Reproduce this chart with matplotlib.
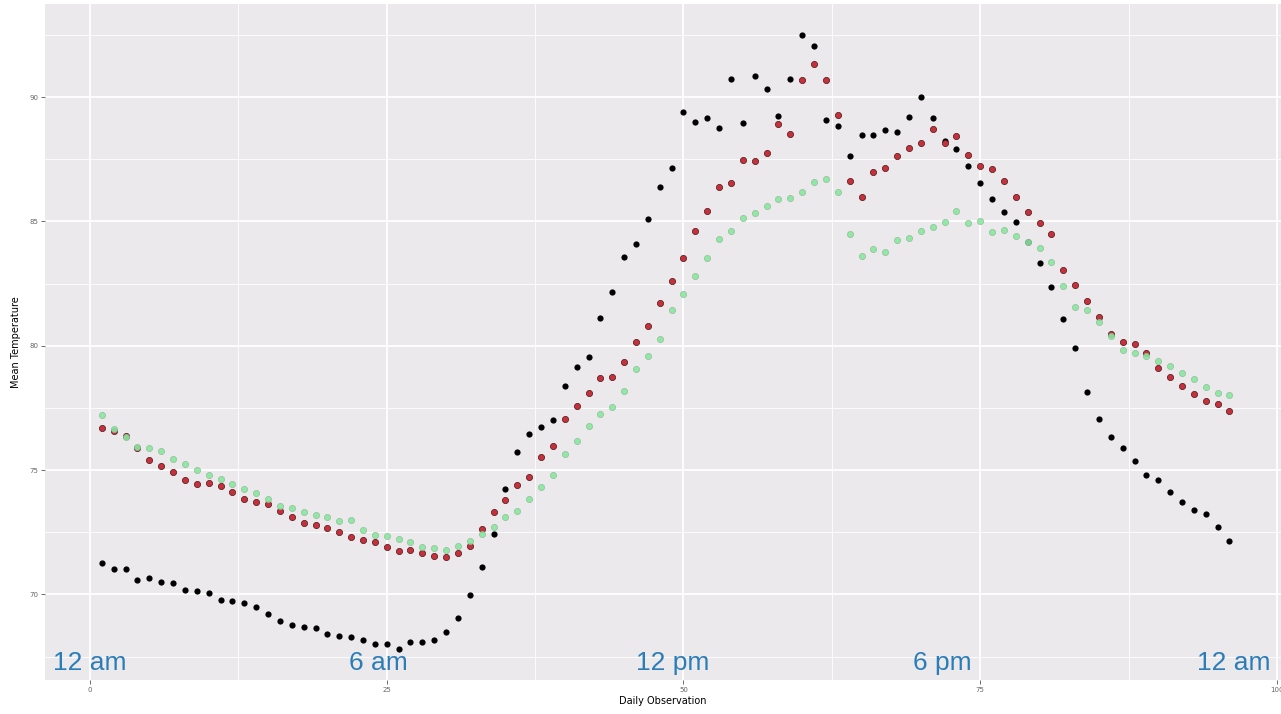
import matplotlib
matplotlib.use("Agg")
import matplotlib.pyplot as plt
from matplotlib.ticker import MultipleLocator, FixedLocator

obs = list(range(1, 97))

temp_black = [71.27, 71.04, 71.01, 70.58, 70.68, 70.51, 70.45, 70.17, 70.14, 70.05,
              69.79, 69.74, 69.65, 69.50, 69.20, 68.95, 68.79, 68.69, 68.67, 68.40,
              68.34, 68.30, 68.17, 68.02, 68.01, 67.81, 68.08, 68.08, 68.18, 68.50,
              69.07, 69.97, 71.12, 72.43, 74.24, 75.74, 76.44, 76.75, 77.01, 78.38,
              79.16, 79.56, 81.12, 82.17, 83.58, 84.08, 85.10, 86.37, 87.16, 89.38,
              89.00, 89.16, 88.77, 90.72, 88.94, 90.84, 90.33, 89.24, 90.74, 92.48,
              92.06, 89.08, 88.83, 87.63, 88.47, 88.47, 88.67, 88.59, 89.18, 89.99,
              89.17, 88.22, 87.90, 87.23, 86.53, 85.91, 85.39, 84.96, 84.18, 83.33,
              82.35, 81.06, 79.92, 78.14, 77.04, 76.34, 75.88, 75.37, 74.82, 74.60,
              74.12, 73.71, 73.38, 73.24, 72.70, 72.16]

temp_red = [76.69, 76.57, 76.37, 75.88, 75.41, 75.17, 74.91, 74.59, 74.45, 74.47,
            74.35, 74.13, 73.84, 73.71, 73.63, 73.34, 73.12, 72.86, 72.78, 72.66,
            72.52, 72.31, 72.19, 72.12, 71.90, 71.76, 71.78, 71.67, 71.55, 71.52,
            71.66, 71.95, 72.62, 73.33, 73.80, 74.39, 74.74, 75.53, 75.95, 77.07,
            77.58, 78.09, 78.69, 78.75, 79.34, 80.14, 80.80, 81.73, 82.60, 83.51,
            84.63, 85.42, 86.40, 86.55, 87.47, 87.44, 87.73, 88.90, 88.50, 90.68,
            91.31, 90.68, 89.28, 86.64, 85.97, 86.98, 87.13, 87.64, 87.95, 88.16,
            88.72, 88.15, 88.42, 87.67, 87.22, 87.09, 86.62, 85.99, 85.39, 84.95,
            84.49, 83.05, 82.44, 81.80, 81.17, 80.46, 80.14, 80.06, 79.70, 79.09,
            78.73, 78.39, 78.05, 77.79, 77.66, 77.39]

temp_green = [77.20, 76.65, 76.34, 75.94, 75.88, 75.77, 75.45, 75.23, 75.00, 74.80,
              74.64, 74.43, 74.24, 74.07, 73.84, 73.56, 73.47, 73.32, 73.20, 73.12,
              72.97, 73.00, 72.61, 72.39, 72.33, 72.21, 72.11, 71.90, 71.86, 71.77,
              71.93, 72.14, 72.42, 72.73, 73.10, 73.37, 73.84, 74.32, 74.79, 75.65,
              76.18, 76.78, 77.25, 77.55, 78.18, 79.08, 79.60, 80.27, 81.45, 82.09,
              82.80, 83.53, 84.29, 84.62, 85.12, 85.33, 85.62, 85.90, 85.94, 86.17,
              86.60, 86.69, 86.17, 84.48, 83.62, 83.88, 83.78, 84.25, 84.35, 84.60,
              84.79, 84.97, 85.42, 84.94, 85.02, 84.59, 84.65, 84.41, 84.18, 83.92,
              83.36, 82.42, 81.57, 81.45, 80.95, 80.40, 79.83, 79.70, 79.60, 79.37,
              79.17, 78.89, 78.66, 78.34, 78.11, 78.02]

x_ticks = [0, 25, 50, 75, 100]
y_ticks = [70, 75, 80, 85, 90]

time_labels = ["12 am", "6 am", "12 pm", "6 pm", "12 am"]
time_label_x = [0.0, 24.3, 49.1, 71.8, 96.4]
time_label_y = 67.25

W, H = 1281, 714
fig = plt.figure(figsize=(W / 100, H / 100), dpi=100)
fig.patch.set_facecolor("white")
ax = fig.add_axes([45 / W, 1 - 680 / H, (1281 - 45) / W, (680 - 4) / H])
ax.set_facecolor("#EBE9EC")

ax.set_xlim(-3.79, 100.34)
ax.set_ylim(66.56, 93.74)

ax.xaxis.set_major_locator(FixedLocator(x_ticks))
ax.yaxis.set_major_locator(FixedLocator(y_ticks))
ax.xaxis.set_minor_locator(MultipleLocator(12.5))
ax.yaxis.set_minor_locator(MultipleLocator(2.5))
ax.grid(which="major", color="white", linewidth=1.3)
ax.grid(which="minor", color="white", linewidth=0.6)
ax.set_axisbelow(True)
for s in ax.spines.values():
    s.set_visible(False)

ax.tick_params(which="major", length=3, width=0.6, color="#555555",
               labelsize=5, labelcolor="#666666", pad=2)
ax.tick_params(which="minor", length=0)

ax.scatter(obs, temp_black, s=20, color="black", zorder=3, linewidths=0)
ax.scatter(obs, temp_red, s=20, facecolor="#c6303a", edgecolor="#4a1418",
           linewidths=0.5, zorder=4)
ax.scatter(obs, temp_green, s=20, facecolor="#86e89c", edgecolor="#8fb89a",
           linewidths=0.5, zorder=5, alpha=0.9)

for lx, lab in zip(time_label_x, time_labels):
    ax.text(lx, time_label_y, lab, ha="center", va="center", fontsize=19,
            color="#2b7db8", family="Liberation Sans", zorder=6)

ax.set_xlabel("Daily Observation", fontsize=7, labelpad=2)
ax.set_ylabel("Mean Temperature", fontsize=7, labelpad=6)

fig.savefig("out.png", dpi=100, facecolor="white")
